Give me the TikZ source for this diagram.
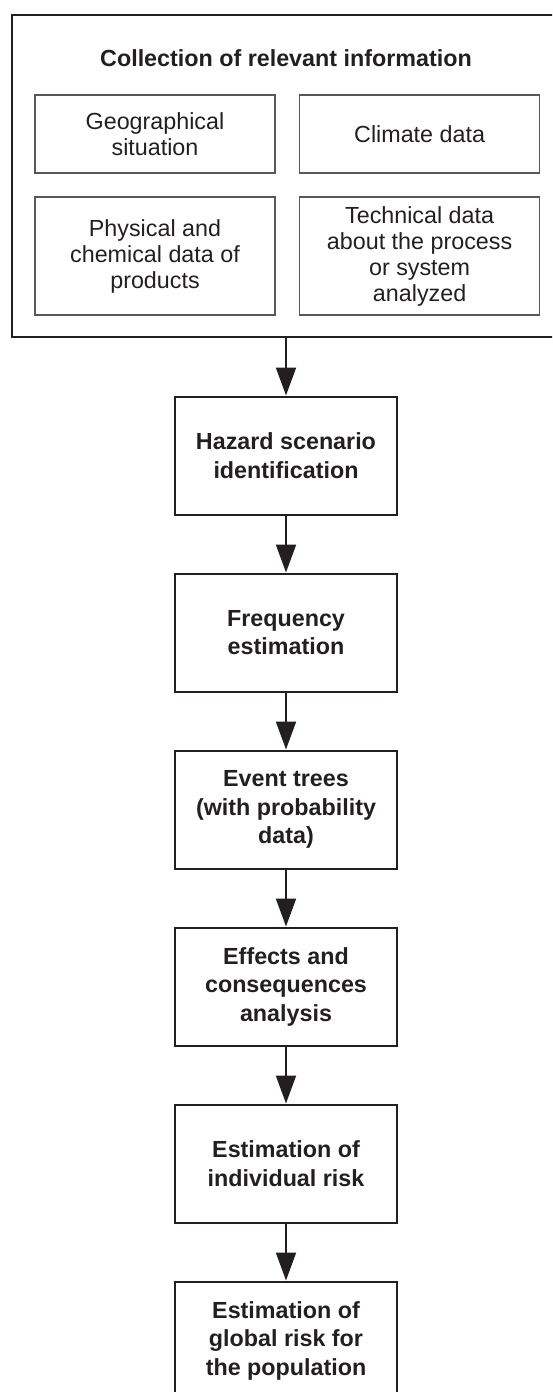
\documentclass[tikz,border=0pt]{standalone}
\usepackage{fontspec}
\setmainfont{Liberation Sans}
\usepackage{tikz}
\usetikzlibrary{arrows.meta,positioning}
\definecolor{ink}{HTML}{231F20}
\tikzset{node distance=177pt, auto}
\tikzset{
  stepbox/.style={draw=ink, line width=2pt, minimum width=222pt, minimum height=118pt,
    align=center, text=ink, font=\fontsize{23.3pt}{28.5pt}\selectfont\bfseries},
  infobox/.style={draw=ink!75, line width=1.6pt, minimum width=240pt,
    align=center, text=ink, font=\fontsize{23.3pt}{26pt}\selectfont},
  flow/.style={draw=ink, line width=2pt, -{Triangle[length=28pt,width=20pt]}}
}

\begin{document}
\begin{tikzpicture}[x=1pt, y=1pt, auto, node distance=177pt]
		\useasboundingbox (0,0) rectangle (552,-1392);
		\clip (0,0) rectangle (552,-1392);
		% collection of information
		\node(info)[draw=ink, line width=2pt, minimum width=548pt, minimum height=322pt] at (286,-176){};
		\node(title)[text=ink, font=\fontsize{23.3pt}{26pt}\selectfont\bfseries] at (286,-58){Collection of relevant information};
		\node(geo)[infobox, minimum height=78pt] at (155,-134){Geographical\\situation};
		\node(climate)[infobox, minimum height=78pt, right=23pt of geo]{Climate data};
		\node(phys)[infobox, minimum height=118pt] at (155,-256){Physical and\\chemical data of\\products};
		\node(tech)[infobox, minimum height=118pt, right=23pt of phys]{Technical data\\about the process\\or system\\analyzed};
		% main chain
		\node(hazard)[stepbox] at (286,-455.5){Hazard scenario\\identification};
		\node(freq)[stepbox, below of=hazard]{Frequency\\estimation};
		\node(events)[stepbox, below of=freq]{Event trees\\(with probability\\data)};
		\node(effects)[stepbox, below of=events]{Effects and\\consequences\\analysis};
		\node(indiv)[stepbox, below of=effects]{Estimation of\\individual risk};
		\node(global)[stepbox, below of=indiv]{Estimation of\\global risk for\\the population};
		\draw[flow](info) to (hazard);
		\draw[flow](hazard) to (freq);
		\draw[flow](freq) to (events);
		\draw[flow](events) to (effects);
		\draw[flow](effects) to (indiv);
		\draw[flow](indiv) to (global);
	\end{tikzpicture}
\end{document}
